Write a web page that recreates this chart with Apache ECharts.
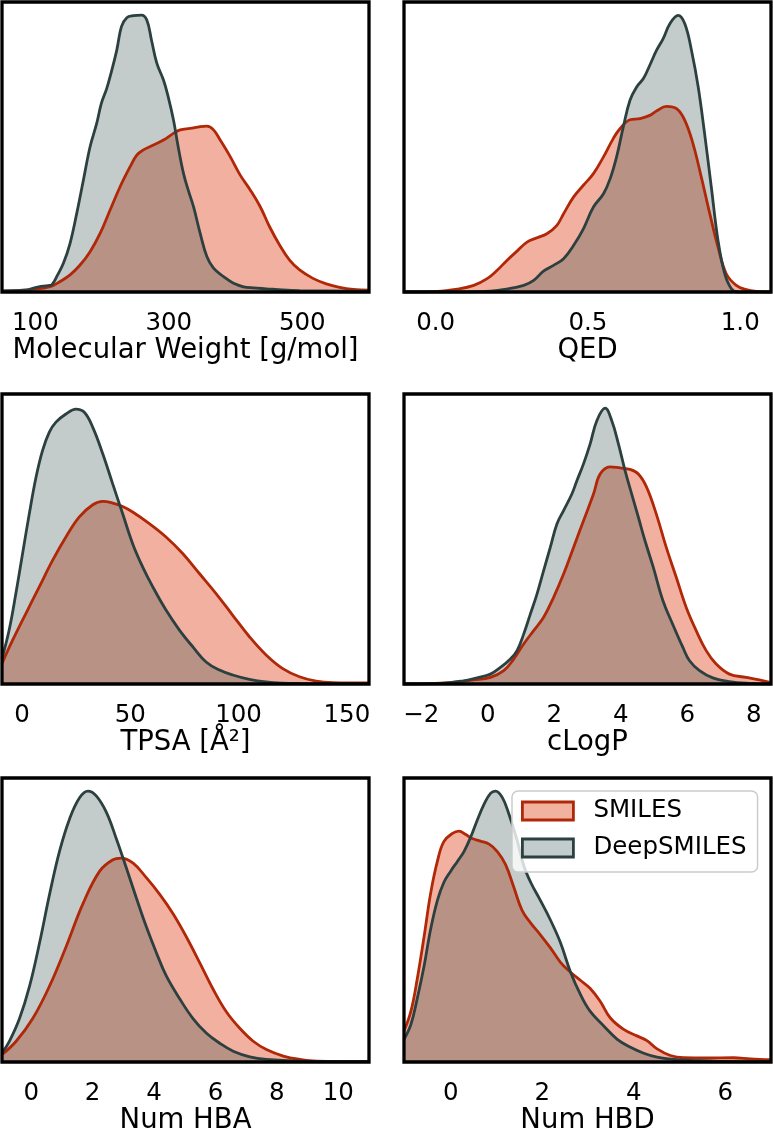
<!DOCTYPE html>
<html>
<head>
<meta charset="utf-8">
<script src="https://cdn.jsdelivr.net/npm/echarts@6/dist/echarts.min.js"></script>
<style>
  html, body { margin: 0; padding: 0; background: #fff; }
  #chart { width: 773px; height: 1136px; }
</style>
</head>
<body>
<div id="chart"></div>
<script>
// KDE curves: [value, density as % of panel height]
const mwSmiles = [[50,0.3],[97,0.9],[122,1.8],[137,3.6],[152,5.9],[167,9.3],[182,13.9],[197,20.2],[212,28.3],[227,36.3],[242,43.2],[252,47.2],[262,49.0],[277,50.7],[292,52.4],[307,54.7],[317,55.9],[332,56.4],[347,57.0],[357,57.2],[367,55.9],[377,52.4],[392,46.7],[407,40.3],[422,35.2],[437,29.4],[451,22.5],[466,16.2],[481,11.0],[496,7.6],[516,4.7],[536,2.8],[556,1.6],[576,0.9],[600,0.6]];
const mwDeep = [[50,0.4],[87,0.6],[95,1.2],[105,1.8],[119,2.2],[125,2.6],[132,5.3],[142,9.9],[152,16.8],[162,27.1],[172,38.6],[182,50.1],[192,58.2],[199,65.1],[207,70.2],[214,76.0],[222,83.4],[229,91.5],[237,94.6],[247,95.3],[259,95.5],[267,93.8],[274,86.9],[282,78.9],[292,73.1],[299,67.4],[307,59.3],[314,50.1],[322,40.9],[329,35.2],[337,29.4],[347,20.2],[357,12.2],[367,8.2],[382,5.3],[397,3.0],[412,1.8],[427,1.4],[446,1.1],[471,0.7],[496,0.5],[600,0.3]];

const qedSmiles = [[-0.104,0],[0.005,0.2],[0.071,1.0],[0.125,2.3],[0.169,4.6],[0.202,7.5],[0.234,10.9],[0.267,14.1],[0.300,17.2],[0.333,18.7],[0.365,20.1],[0.398,23.0],[0.420,27.0],[0.453,32.8],[0.485,36.8],[0.518,40.8],[0.551,46.6],[0.583,52.9],[0.605,56.3],[0.638,59.4],[0.671,59.8],[0.703,60.9],[0.725,62.4],[0.758,64.0],[0.791,63.2],[0.818,59.2],[0.845,51.1],[0.872,39.7],[0.900,27.0],[0.927,15.5],[0.954,6.3],[0.987,2.3],[1.020,0.8],[1.052,0.2],[1.101,0]];
const qedDeep = [[-0.104,0],[0.016,0],[0.180,0.3],[0.234,1.0],[0.289,2.3],[0.322,4.0],[0.354,7.2],[0.387,9.2],[0.420,11.5],[0.453,16.1],[0.485,21.8],[0.518,29.3],[0.551,33.9],[0.573,39.1],[0.594,46.6],[0.616,56.9],[0.638,66.1],[0.660,70.7],[0.682,73.6],[0.703,78.2],[0.725,83.3],[0.747,87.4],[0.769,92.5],[0.796,95.4],[0.818,92.5],[0.840,83.3],[0.862,70.7],[0.883,54.6],[0.905,36.2],[0.927,17.8],[0.949,6.3],[0.971,1.1],[0.992,0],[1.101,0]];

const tpsaSmiles = [[-9.2,7.1],[-4.3,15.1],[1.8,24.3],[8.0,33.5],[14.2,42.7],[20.3,50.7],[26.5,57.6],[32.7,61.8],[37.3,63.0],[41.9,62.4],[46.5,61.2],[51.1,59.3],[58.8,55.3],[66.5,50.7],[74.2,45.0],[81.9,38.1],[89.6,31.2],[97.3,23.7],[105.0,16.3],[112.7,10.0],[120.4,5.3],[128.1,2.5],[135.8,1.0],[143.5,0.5],[160.2,0.4]];
const tpsaDeep = [[-9.2,8.8],[-5.9,18.6],[-2.8,31.2],[0.3,45.0],[3.4,58.7],[6.5,71.3],[9.5,80.5],[12.6,86.8],[15.7,90.3],[20.3,93.1],[24.9,94.8],[28.8,93.7],[32.7,88.5],[37.3,79.4],[41.9,69.0],[46.5,58.7],[51.1,48.4],[55.7,40.4],[60.4,33.5],[66.5,25.5],[72.7,18.6],[78.9,12.8],[85.0,7.6],[91.2,4.8],[97.3,3.1],[105.0,1.6],[112.7,0.7],[120.4,0.3],[128.1,0.2],[160.2,0.1]];

const clogpSmiles = [[-2.52,0],[-1.12,0.5],[-0.42,1.4],[0.08,2.3],[0.48,4.6],[0.78,8.6],[1.08,13.8],[1.38,18.4],[1.68,23.0],[1.98,29.9],[2.28,37.9],[2.58,47.1],[2.88,56.3],[3.18,65.5],[3.38,72.4],[3.68,74.9],[3.98,74.5],[4.28,74.0],[4.53,72.4],[4.78,67.8],[5.07,58.6],[5.37,47.1],[5.67,36.8],[5.97,26.4],[6.27,18.4],[6.57,11.5],[6.87,6.9],[7.27,3.4],[7.77,2.3],[8.17,1.4],[8.52,0.5]];
const clogpDeep = [[-2.52,0],[-1.42,0.2],[-0.72,1.1],[-0.32,2.1],[0.08,3.4],[0.38,5.7],[0.68,8.6],[0.88,11.5],[1.08,17.2],[1.28,24.1],[1.48,31.0],[1.68,39.1],[1.88,47.1],[2.08,55.2],[2.28,59.8],[2.53,65.5],[2.68,70.1],[2.88,75.9],[3.08,82.8],[3.28,90.8],[3.53,95.1],[3.73,90.8],[3.93,82.8],[4.13,73.6],[4.33,65.5],[4.53,57.5],[4.73,49.4],[4.98,40.2],[5.27,28.7],[5.57,20.4],[5.87,12.6],[6.07,8.0],[6.37,4.6],[6.77,2.1],[7.27,0.8],[7.87,0.2],[8.52,0]];

const hbaSmiles = [[-0.95,2.6],[-0.49,7.3],[0.05,15.3],[0.60,26.8],[1.14,40.7],[1.68,55.6],[2.23,67.2],[2.66,71.2],[2.93,71.8],[3.32,70.0],[3.75,64.9],[4.18,59.1],[4.62,52.2],[5.05,44.1],[5.49,34.9],[5.92,25.7],[6.36,17.6],[6.79,11.9],[7.23,7.3],[7.66,4.4],[8.21,2.1],[8.75,0.9],[9.29,0.3],[11.0,0.1]];
const hbaDeep = [[-0.95,3.2],[-0.71,7.3],[-0.38,15.3],[-0.05,26.8],[0.27,41.8],[0.60,59.1],[0.92,74.1],[1.25,85.6],[1.58,93.1],[1.85,95.4],[2.12,93.7],[2.45,87.9],[2.77,78.7],[3.10,68.3],[3.42,57.9],[3.75,47.6],[4.08,38.4],[4.40,30.3],[4.84,22.2],[5.27,15.3],[5.71,10.1],[6.14,6.6],[6.58,3.8],[7.12,1.8],[7.66,0.9],[8.75,0.3],[11.0,0.1]];

const hbdSmiles = [[-1.02,10.9],[-0.87,17.8],[-0.73,29.3],[-0.58,44.3],[-0.44,59.2],[-0.29,70.7],[-0.15,77.6],[0.04,80.5],[0.18,81.3],[0.33,80.1],[0.47,78.7],[0.65,77.8],[0.84,76.7],[1.02,74.1],[1.20,69.5],[1.38,61.5],[1.56,53.4],[1.75,48.9],[1.96,44.8],[2.18,40.2],[2.40,35.1],[2.62,31.6],[2.84,28.7],[3.05,25.9],[3.27,21.3],[3.49,15.5],[3.78,11.5],[4.07,9.2],[4.29,7.5],[4.51,4.6],[4.80,2.3],[5.09,1.5],[5.60,1.4],[6.18,1.5],[6.55,1.1],[7.0,0.8]];
const hbdDeep = [[-1.02,8.0],[-0.87,13.2],[-0.73,22.4],[-0.58,33.9],[-0.44,46.6],[-0.29,56.9],[-0.15,63.2],[0,67.2],[0.15,70.7],[0.29,74.1],[0.44,79.3],[0.58,85.1],[0.73,90.8],[0.87,94.6],[0.98,95.4],[1.13,93.1],[1.27,87.4],[1.45,78.2],[1.60,69.0],[1.75,63.2],[1.96,56.9],[2.18,50.0],[2.40,42.0],[2.62,31.6],[2.84,23.6],[3.05,17.8],[3.35,12.6],[3.64,8.0],[3.93,5.2],[4.22,3.1],[4.51,1.7],[4.87,0.9],[5.24,0.6],[5.96,0.2],[7.0,0.1]];

// tick labels
const mwTicks = [100, 300, 500];
const qedTicks = [0, 0.5, 1];
const tpsaTicks = [0, 50, 100, 150];
const clogpTicks = [-2, 0, 2, 4, 6, 8];
const hbaTicks = [0, 2, 4, 6, 8, 10];
const hbdTicks = [0, 2, 4, 6];

const seriesNames = ['SMILES', 'DeepSMILES'];

const panels = [
  { title: 'Molecular Weight [g/mol]', min: 50, max: 600, ticks: mwTicks, smiles: mwSmiles, deep: mwDeep },
  { title: 'QED', min: -0.104, max: 1.101, ticks: qedTicks, smiles: qedSmiles, deep: qedDeep, fmt: v => v.toFixed(1) },
  { title: 'TPSA [Å²]', min: -9.2, max: 160.2, ticks: tpsaTicks, smiles: tpsaSmiles, deep: tpsaDeep },
  { title: 'cLogP', min: -2.52, max: 8.52, ticks: clogpTicks, smiles: clogpSmiles, deep: clogpDeep },
  { title: 'Num HBA', min: -0.95, max: 11.0, ticks: hbaTicks, smiles: hbaSmiles, deep: hbaDeep },
  { title: 'Num HBD', min: -1.02, max: 7.0, ticks: hbdTicks, smiles: hbdSmiles, deep: hbdDeep }
];

const colLeft = [2, 404];
const rowTop = [2, 394, 778];
const boxW = 367, boxH = 290;

const font = 'DejaVu Sans';
const smilesLine = '#b02808', smilesFill = 'rgba(230,100,65,0.5)';
const deepLine = '#2c4040', deepFill = 'rgba(40,70,70,0.28)';

const fmtDefault = v => (v < 0 ? '\u2212' + (-v) : String(v));

function kde(name, data, i, line, fill) {
  return {
    type: 'line', name, data,
    xAxisIndex: i, yAxisIndex: i,
    smooth: 0.4, showSymbol: false, symbol: 'none', silent: true,
    lineStyle: { color: line, width: 2.8 },
    itemStyle: { color: line },
    areaStyle: { color: fill, opacity: 1 }
  };
}

const grid = [], xAxis = [], yAxis = [], series = [];
panels.forEach((p, i) => {
  grid.push({
    left: colLeft[i % 2], top: rowTop[Math.floor(i / 2)], width: boxW, height: boxH,
    show: true, borderColor: '#000', borderWidth: 3.3, backgroundColor: 'transparent', z: 10
  });
  xAxis.push({
    type: 'value', gridIndex: i, min: p.min, max: p.max,
    axisLine: { show: false }, axisTick: { show: false }, splitLine: { show: false },
    axisLabel: { customValues: p.ticks, formatter: p.fmt || fmtDefault, fontSize: 24.5, color: '#000', fontFamily: font, margin: 19 },
    name: p.title, nameLocation: 'middle', nameGap: 45,
    nameTextStyle: { fontSize: 27.5, color: '#000', fontFamily: font }
  });
  yAxis.push({ type: 'value', gridIndex: i, min: 0, max: 100, show: false });
  series.push(kde(seriesNames[0], p.smiles, i, smilesLine, smilesFill));
  series.push(kde(seriesNames[1], p.deep, i, deepLine, deepFill));
});

const chart = echarts.init(document.getElementById('chart'));
chart.setOption({
  animation: false,
  backgroundColor: '#fff',
  grid, xAxis, yAxis, series,
  legend: {
    orient: 'vertical', left: 512, top: 791,
    data: [
      { name: seriesNames[0], icon: 'rect', itemStyle: { color: 'rgb(242,178,160)', borderColor: smilesLine, borderWidth: 2.8 } },
      { name: seriesNames[1], icon: 'rect', itemStyle: { color: 'rgb(195,204,204)', borderColor: deepLine, borderWidth: 2.8 } }
    ],
    itemWidth: 51, itemHeight: 18, itemGap: 9,
    textStyle: { fontSize: 24.5, fontFamily: font, color: '#000', lineHeight: 28, padding: [0, 0, 0, 15] },
    backgroundColor: 'rgba(255,255,255,0.8)', borderColor: '#cccccc', borderWidth: 1.5, borderRadius: 6,
    padding: [6, 11, 10, 9]
  }
});
</script>
</body>
</html>
